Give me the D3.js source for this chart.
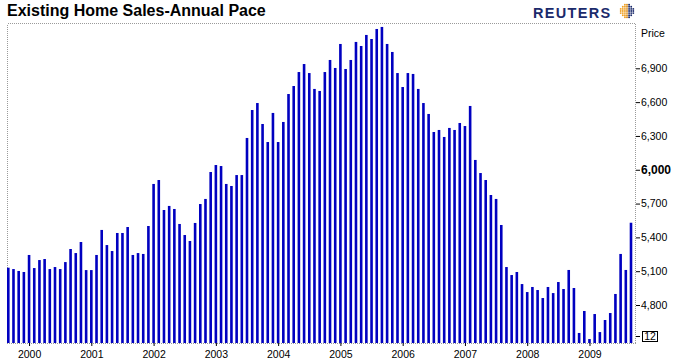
<!DOCTYPE html>
<html><head><meta charset="utf-8">
<script src="https://cdn.jsdelivr.net/npm/d3@7/dist/d3.min.js"></script>
<style>
html,body{margin:0;padding:0;background:#fff;}
svg{display:block;font-family:"Liberation Sans",Arial,sans-serif;}
</style></head><body>
<script>
// Existing home sales, annual pace (thousands), monthly Sep 1999 - Sep 2009
const startYear = 1999, startMonth = 9;
const sales = [
  5131, 5119, 5102, 5093,
  5244, 5128, 5199, 5208, 5119, 5137, 5119, 5181, 5297, 5261, 5359, 5110,
  5110, 5244, 5466, 5332, 5279, 5439, 5439, 5492, 5244, 5261, 5253, 5501,
  5874, 5909, 5643, 5679, 5652, 5519, 5421, 5368, 5528, 5696, 5741, 5980,
  6042, 6033, 5874, 5856, 5953, 5953, 6282, 6530, 6592, 6406, 6246, 6504,
  6246, 6424, 6672, 6743, 6867, 6938, 6858, 6717, 6699, 6867, 6974, 6903,
  7116, 6894, 6974, 7134, 7098, 7196, 7160, 7249, 7267, 7116, 7045, 6858,
  6734, 6858, 6850, 6717, 6592, 6495, 6335, 6353, 6291, 6371, 6353, 6415,
  6388, 6566, 6087, 5971, 5909, 5776, 5741, 5510, 5137, 5066, 5093, 4986,
  4915, 4960, 4933, 4862, 4960, 4906, 5004, 4942, 5111, 4951, 4552, 4747,
  4498, 4720, 4560, 4667, 4729, 4898, 5253, 5111, 5530
];
const yearLabels = ["2000","2001","2002","2003","2004","2005","2006","2007","2008","2009"];
const priceTicks = [4800, 5100, 5400, 5700, 6000, 6300, 6600, 6900];
const boldTick = 6000;
const title = "Existing Home Sales-Annual Pace";
const axisTitle = "Price";
const lastLabel = "12";

const W = 677, H = 363;
const L = 7, T = 23, R = 635, B = 343;

const svg = d3.select("body").append("svg").attr("width", W).attr("height", H);

const x = d3.scaleLinear().domain([0, sales.length - 1]).range([8.3, 631]);
const y = d3.scaleLinear().domain([4463, 7302]).range([B, T]);

// frame (dotted)
const dash = "1,1";
svg.append("path")
  .attr("d", `M${L+0.5},${B+0.5}V${T+0.5}H${R+0.5}V${B+0.5}H${L+0.5}`)
  .attr("fill","none").attr("stroke","#9a9a9a").attr("stroke-width",1)
  .attr("stroke-dasharray", dash).attr("shape-rendering","crispEdges");

// bars
const bw = 2.6;
svg.append("g").selectAll("rect").data(sales).join("rect")
  .attr("x", (d,i) => x(i) - bw/2)
  .attr("y", d => y(d))
  .attr("width", bw)
  .attr("height", d => B - y(d))
  .attr("fill", "#0000c0");

// right axis
const ay = svg.append("g").attr("transform", `translate(${R},0)`)
  .call(d3.axisRight(y).tickValues(priceTicks).tickSize(4).tickPadding(2)
        .tickFormat(d3.format(",")));
ay.select(".domain").remove();
ay.selectAll("line").attr("stroke","#000").attr("transform","translate(1,0)");
ay.selectAll("text").attr("fill","#000").style("font-size","10.5px")
  .style("font-weight", d => d === boldTick ? "bold" : "normal")
  .style("font-size", d => d === boldTick ? "12px" : "10.5px");

svg.append("text").attr("x", 641).attr("y", 37).text(axisTitle)
  .style("font-size","10.5px").attr("fill","#000");

// last label box
svg.append("line").attr("x1",636).attr("x2",640).attr("y1",336.5).attr("y2",336.5).attr("stroke","#000");
svg.append("rect").attr("x",642.5).attr("y",331.5).attr("width",15).attr("height",10)
  .attr("fill","#fff").attr("stroke","#000").attr("stroke-width",1);
svg.append("text").attr("x",650).attr("y",340.3).attr("text-anchor","middle")
  .style("font-size","10.5px").text(lastLabel);

// bottom axis (year ticks at January)
const janIdx = yearLabels.map((d,k) => (13 - startMonth) + 12*k);
const ax = svg.append("g").attr("transform", `translate(0,${B})`)
  .call(d3.axisBottom(x).tickValues(janIdx).tickSize(3).tickPadding(5)
        .tickFormat((d,k) => yearLabels[k]));
ax.select(".domain").remove();
ax.selectAll("line").attr("stroke","#000");
ax.selectAll("text").attr("fill","#000").style("font-size","10.5px");

// title
svg.append("text").attr("x", 7).attr("y", 16).text(title)
  .style("font-size","16px").style("font-weight","bold").attr("fill","#000");

// Reuters logo
svg.append("text").attr("x", 533).attr("y", 17.5).text("REUTERS")
  .style("font-size","14.5px").style("font-weight","bold").style("letter-spacing","1.3px")
  .attr("fill","#1b2a6b");
const gl = svg.append("g").attr("transform","translate(627,11)");
const dots = [];
for (let r = -3; r <= 3; r++) for (let c = -3; c <= 3; c++) {
  if (r*r + c*c <= 11) dots.push([c, r]);
}
gl.selectAll("circle").data(dots).join("circle")
  .attr("cx", d => d[0]*2.1).attr("cy", d => d[1]*2.1).attr("r", 0.95)
  .attr("fill", d => d[0] <= -1 ? "#f0a020" : (d[0] === 0 ? "#d98a18" : "#1b2a6b"));
</script>
</body></html>
